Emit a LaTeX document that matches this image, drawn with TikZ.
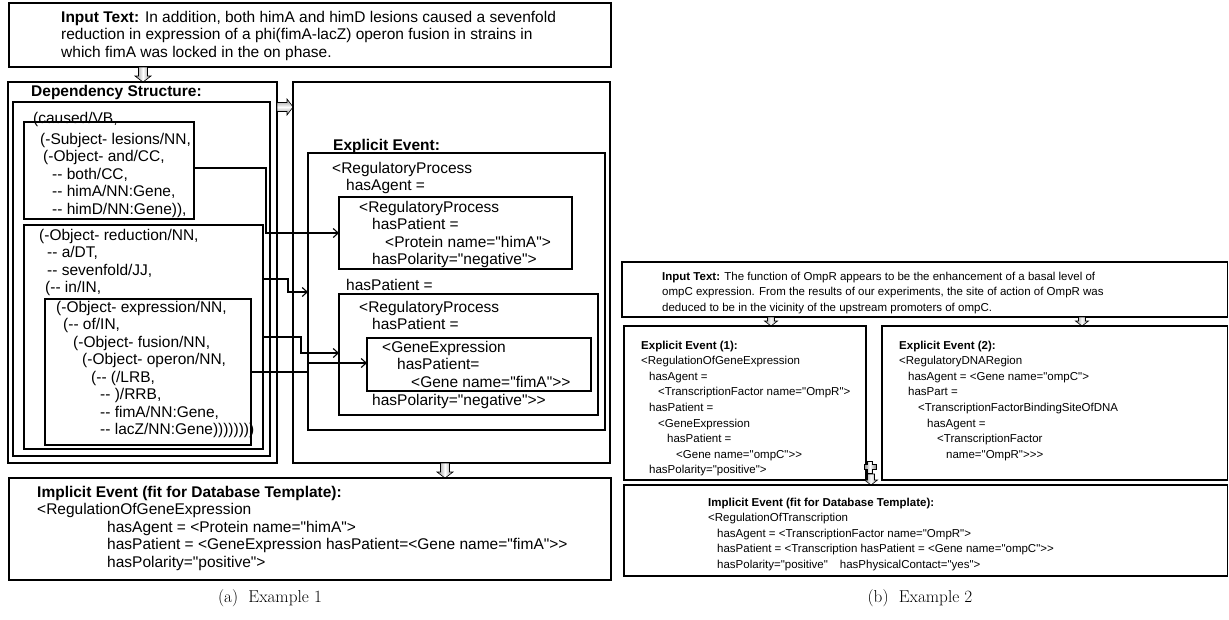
\documentclass[tikz,border=0pt]{standalone}
\usepackage{fontspec}
\newfontfamily\arial{Liberation Sans}
\usetikzlibrary{arrows.meta,calc}
\newcommand\fA{\arial\fontsize{15.5}{17.5}\selectfont}
\newcommand\fB{\arial\fontsize{11.5}{15.6}\selectfont}
\newcommand\fC{\fontsize{17.2}{20}\selectfont}
\tikzset{
  ta/.style={anchor=north west, inner sep=0pt, align=left, font=\fA, yshift=6pt},
  tb/.style={anchor=north west, inner sep=0pt, align=left, font=\fB, yshift=4.5pt},
  box/.style={draw, line width=1.1pt, anchor=north west, inner sep=0pt, outer sep=0pt},
  conn/.style={draw, line width=1.1pt, -{Straight Barb[length=5pt,width=9pt]}},
  vshade/.style={draw, line width=0.6pt, left color=gray!90, right color=gray!90, middle color=white},
  hshade/.style={draw, line width=0.6pt, top color=gray!90, bottom color=gray!90, middle color=white},
  capt/.style={font=\fC, inner sep=0pt}
}
\newcommand\blkdownA[3]{\draw[vshade] (#1-4.5,#2) -- (#1+4.5,#2) -- (#1+4.5,#3-6) -- (#1+8,#3-6) -- (#1,#3) -- (#1-8,#3-6) -- (#1-4.5,#3-6) -- cycle;}
\newcommand\blkdownB[3]{\draw[vshade] (#1-3.5,#2) -- (#1+3.5,#2) -- (#1+3.5,#3-5) -- (#1+6.5,#3-5) -- (#1,#3) -- (#1-6.5,#3-5) -- (#1-3.5,#3-5) -- cycle;}
\begin{document}
\begin{tikzpicture}[x=1pt,y=-1pt]
\useasboundingbox (0,0) rectangle (1229,619);
% ---------------- (a) ----------------
\node[box, minimum width=602pt, minimum height=64pt] (inA) at (9,3) {};
\node[ta] (inAtxt) at (61,17) {\textbf{Input Text:} In addition, both himA and himD lesions caused a sevenfold\\reduction in expression of a phi(fimA-lacZ) operon fusion in strains in\\which fimA was locked in the on phase.};
\blkdownA{143}{67}{82}

\node[box, minimum width=269pt, minimum height=381pt] (depO) at (8,82) {};
\node[box, minimum width=257pt, minimum height=354pt] (depI) at (13,102) {};
\node[ta] (depT) at (31,91) {\textbf{Dependency Structure:}};
\node[box, minimum width=170pt, minimum height=97pt] (subj) at (24,122) {};
\node[box, minimum width=239pt, minimum height=224pt] (redu) at (24,225) {};
\node[box, minimum width=206pt, minimum height=146pt] (expr) at (45,299) {};
\node[ta] (caused) at (33,118) {(caused/VB,};
\node[ta] (subjtxt) at (40,139) {(-Subject- lesions/NN,\\\hspace*{3pt}(-Object- and/CC,\\\hspace*{12pt}-{}- both/CC,\\\hspace*{12pt}-{}- himA/NN:Gene,\\\hspace*{12pt}-{}- himD/NN:Gene)),};
\node[ta] (redutxt) at (39,235) {(-Object- reduction/NN,\\\hspace*{8pt}-{}- a/DT,\\\hspace*{8pt}-{}- sevenfold/JJ,\\\hspace*{6pt}(-{}- in/IN,};
\node[ta] (exprtxt) at (56,307) {(-Object- expression/NN,\\\hspace*{7pt}(-{}- of/IN,\\\hspace*{17pt}(-Object- fusion/NN,\\\hspace*{26pt}(-Object- operon/NN,\\\hspace*{35pt}(-{}- (/LRB,\\\hspace*{44pt}-{}- )/RRB,\\\hspace*{44pt}-{}- fimA/NN:Gene,\\\hspace*{44pt}-{}- lacZ/NN:Gene))))))))};

\draw[hshade] (277,107-4.5) -- (287,107-4.5) -- (287,107-8) -- (293,107) -- (287,107+8) -- (287,107+4.5) -- (277,107+4.5) -- cycle;

\node[box, minimum width=317pt, minimum height=381pt] (rightP) at (293,82) {};
\node[box, minimum width=297pt, minimum height=277pt] (expl) at (308,153) {};
\node[ta] (explT) at (333,145) {\textbf{Explicit Event:}};
\node[ta] (expltxt) at (332,168) {<RegulatoryProcess\\\hspace*{14pt}hasAgent =};
\node[box, minimum width=233pt, minimum height=72pt] (agent) at (339,197) {};
\node[ta] (agenttxt) at (359,207) {<RegulatoryProcess\\\hspace*{13pt}hasPatient =\\\hspace*{26pt}<Protein name="himA">\\\hspace*{13pt}hasPolarity="negative">};
\node[ta] (haspat) at (346,285) {hasPatient =};
\node[box, minimum width=259pt, minimum height=121pt] (patient) at (339,294) {};
\node[ta] (pattxt) at (359,307) {<RegulatoryProcess\\\hspace*{13pt}hasPatient =};
\node[box, minimum width=224pt, minimum height=53pt] (gexp) at (367,338) {};
\node[ta] (gexptxt) at (382,347) {<GeneExpression\\\hspace*{15pt}hasPatient=\\\hspace*{29pt}<Gene name="fimA">>};
\node[ta] (patpol) at (372,400) {hasPolarity="negative">>};

\draw[conn] (subj.east |- 0,168) -| (266,233) -- (agent.west |- 0,233);
\draw[conn] (redu.east |- 0,279) -| (288,292) -- (expl.west |- 0,292);
\draw[conn] (redu.east |- 0,337) -| (301,353) -- (patient.west |- 0,353);
\draw[conn] (expr.east |- 0,372) -| (308,363) -- (gexp.west |- 0,363);

\blkdownA{445}{463}{478}
\node[box, minimum width=602pt, minimum height=102pt] (implA) at (9,478) {};
\node[ta] (implAtxt) at (37,492) {\textbf{Implicit Event (fit for Database Template):}\\<RegulationOfGeneExpression\\\hspace*{70pt}hasAgent = <Protein name="himA">\\\hspace*{70pt}hasPatient = <GeneExpression hasPatient=<Gene name="fimA">>\\\hspace*{70pt}hasPolarity="positive">};
\node[capt] (captA) at (270,598) {(a)\hspace{0.6em}Example 1};

% ---------------- (b) ----------------
\node[box, minimum width=605.5pt, minimum height=55pt] (inB) at (622,262) {};
\node[tb] (inBtxt) at (662,276) {\textbf{Input Text:} The function of OmpR appears to be the enhancement of a basal level of\\ompC expression. From the results of our experiments, the site of action of OmpR was\\deduced to be in the vicinity of the upstream promoters of ompC.};
\blkdownB{771}{317}{326}
\blkdownB{1082}{317}{326}
\node[box, minimum width=242pt, minimum height=154pt] (ex1) at (624,326) {};
\node[tb] (ex1txt) at (641,345) {\textbf{Explicit Event (1):}\\<RegulationOfGeneExpression\\\hspace*{8pt}hasAgent =\\\hspace*{17pt}<TranscriptionFactor name="OmpR">\\\hspace*{8pt}hasPatient =\\\hspace*{17pt}<GeneExpression\\\hspace*{26pt}hasPatient =\\\hspace*{35pt}<Gene name="ompC">>\\\hspace*{8pt}hasPolarity="positive">};
\node[box, minimum width=345.5pt, minimum height=154pt] (ex2) at (882,326) {};
\node[tb] (ex2txt) at (899,345) {\textbf{Explicit Event (2):}\\<RegulatoryDNARegion\\\hspace*{9pt}hasAgent = <Gene name="ompC">\\\hspace*{9pt}hasPart =\\\hspace*{19pt}<TranscriptionFactorBindingSiteOfDNA\\\hspace*{28pt}hasAgent =\\\hspace*{38pt}<TranscriptionFactor\\\hspace*{47pt}name="OmpR">>>};
\draw[vshade] (870-2.5,467-6) -- (870+2.5,467-6) -- (870+2.5,467-2.5) -- (870+6,467-2.5) -- (870+6,467+2.5) -- (870+2.5,467+2.5) -- (870+2.5,467+6) -- (870-2.5,467+6) -- (870-2.5,467+2.5) -- (870-6,467+2.5) -- (870-6,467-2.5) -- (870-2.5,467-2.5) -- cycle;
\blkdownB{871}{474}{485}
\node[box, minimum width=603.5pt, minimum height=91pt] (implB) at (624,485) {};
\node[tb] (implBtxt) at (708,502) {\textbf{Implicit Event (fit for Database Template):}\\<RegulationOfTranscription\\\hspace*{9pt}hasAgent = <TranscriptionFactor name="OmpR">\\\hspace*{9pt}hasPatient = <Transcription hasPatient = <Gene name="ompC">>\\\hspace*{9pt}hasPolarity="positive"\hspace*{12pt}hasPhysicalContact="yes">};
\node[capt] (captB) at (920,598) {(b)\hspace{0.6em}Example 2};
\end{tikzpicture}
\end{document}
